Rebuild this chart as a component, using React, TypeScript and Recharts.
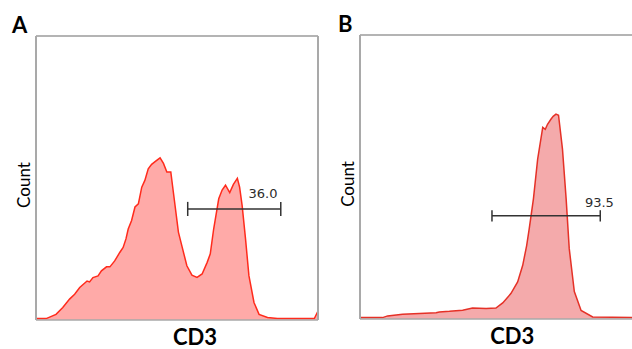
import React from 'react';
import { AreaChart, Area, XAxis, YAxis, ReferenceLine, ReferenceDot } from 'recharts';

// Panel A: CD3 channel (0-1000) vs count (% of frame height)
const cd3A = [0, 36, 71, 95, 119, 137, 155, 181, 190, 202, 220, 232, 250, 262, 279, 297, 309, 319, 327, 339, 351, 363, 375, 386, 398, 410, 428, 440, 452, 464, 478, 487, 505, 517, 535, 553, 571, 589, 607, 618, 630, 648, 660, 672, 687, 700, 714, 722, 731, 743, 755, 773, 791, 821, 856, 987, 1000];
const countA = [0, 0, 1.5, 3.9, 6.9, 8.6, 11.0, 13.3, 13.0, 14.5, 15.1, 16.9, 18.3, 18.3, 20.4, 23.4, 25.2, 28.2, 31.7, 34.7, 39.5, 40.6, 46.5, 48.9, 53.0, 54.6, 56.0, 56.9, 54.9, 51.9, 51.9, 44.8, 30.6, 25.8, 18.7, 15.4, 14.6, 15.8, 19.9, 22.9, 31.7, 42.4, 45.5, 47.2, 44.6, 47.5, 49.6, 46.5, 40.0, 28.2, 15.2, 5.7, 1.5, 0.4, 0, 0, 2.7];

// Panel B
const cd3B = [0, 80, 98, 151, 270, 281, 317, 364, 399, 447, 482, 506, 535, 559, 577, 591, 600, 615, 630, 648, 657, 665, 677, 685, 695, 704, 718, 731, 742, 760, 784, 825, 1000];
const countB = [0, 0, 0.6, 1.2, 1.7, 2.0, 2.2, 2.6, 3.4, 3.2, 3.4, 5.2, 8.5, 12.6, 18.5, 25.5, 31.4, 42.0, 56.1, 67.3, 66.6, 68.4, 70.2, 71.2, 72.0, 71.6, 59.6, 42.0, 24.4, 9.2, 2.5, 0.2, 0];

// gates: [from, to, level, tick half height], label [x, y, text]
const gateA = [538, 868, 38.8, 2.5];
const gateLabelA = [805, 44.4, '36.0'];
const gateB = [468, 852, 36.0, 2.0];
const gateLabelB = [849, 40.6, '93.5'];

const FRAME = '#a9a9a9';
const Y_MIN = -0.5;

const toRows = (xs: number[], ys: number[]) => xs.map((x, i) => ({ cd3: x, count: ys[i] }));

const countLabel = (dx: number) => (props: any) => {
  const vb = props.viewBox;
  const cx = vb.x + dx;
  const cy = vb.y + vb.height / 2 + 7;
  return (
    <text
      x={cx}
      y={cy}
      transform={`rotate(-90 ${cx} ${cy})`}
      textAnchor="middle"
      dominantBaseline="central"
      fontFamily="Lato"
      fontSize={17}
      fill="#000"
    >
      Count
    </text>
  );
};

const cd3Label = (frac: number) => (props: any) => {
  const vb = props.viewBox;
  return (
    <text
      x={vb.x + vb.width * frac}
      y={vb.y + 25}
      textAnchor="middle"
      fontFamily="Lato"
      fontWeight={700}
      fontSize={22}
      fill="#000"
    >
      CD3
    </text>
  );
};

interface PanelProps {
  cd3: number[];
  counts: number[];
  gate: number[];
  gateLabel: (number | string)[];
  stroke: string;
  fill: string;
  width: number;
  top: number;
  right: number;
  yWidth: number;
  xHeight: number;
  countDx: number;
  cd3Frac: number;
}

function Histogram(p: PanelProps) {
  const rows = toRows(p.cd3, p.counts);
  const [g1, g2, gy, gt] = p.gate;
  return (
    <AreaChart
      width={p.width}
      height={349}
      data={rows}
      margin={{ top: p.top, right: p.right, bottom: 0, left: 0 }}
    >
      <XAxis
        dataKey="cd3"
        type="number"
        domain={[0, 1000]}
        tick={false}
        tickLine={false}
        height={p.xHeight}
        axisLine={{ stroke: FRAME, strokeWidth: 1.5 }}
        label={{ content: cd3Label(p.cd3Frac) }}
      />
      <YAxis
        type="number"
        domain={[Y_MIN, 100]}
        tick={false}
        tickLine={false}
        width={p.yWidth}
        axisLine={{ stroke: FRAME, strokeWidth: 2 }}
        label={{ content: countLabel(p.countDx) }}
      />
      {/* top and right edges of the frame */}
      <ReferenceLine y={100} stroke="#b4b4b4" strokeWidth={2} />
      <ReferenceLine x={1000} stroke={FRAME} strokeWidth={2} />
      <Area
        type="linear"
        dataKey="count"
        baseValue={Y_MIN}
        stroke={p.stroke}
        strokeWidth={1.5}
        fill={p.fill}
        fillOpacity={1}
        isAnimationActive={false}
        dot={false}
        activeDot={false}
      />
      <ReferenceLine segment={[{ x: g1, y: gy }, { x: g2, y: gy }]} stroke="#333" strokeWidth={1.5} />
      <ReferenceLine segment={[{ x: g1, y: gy - gt }, { x: g1, y: gy + gt }]} stroke="#333" strokeWidth={1.5} />
      <ReferenceLine segment={[{ x: g2, y: gy - gt }, { x: g2, y: gy + gt }]} stroke="#333" strokeWidth={1.5} />
      <ReferenceDot
        x={p.gateLabel[0] as number}
        y={p.gateLabel[1] as number}
        r={1}
        fill="none"
        stroke="none"
        label={{
          value: p.gateLabel[2],
          position: 'center',
          fill: '#2b2b2b',
          fontSize: 13,
          fontFamily: 'DejaVu Sans',
        }}
      />
    </AreaChart>
  );
}

const panelTitle: React.CSSProperties = {
  position: 'absolute',
  fontFamily: 'Lato',
  fontWeight: 700,
  fontSize: 22,
  lineHeight: '22px',
  color: '#000',
};

export default function App() {
  return (
    <div
      style={{
        position: 'fixed',
        left: 0,
        top: 0,
        width: 632,
        height: 349,
        overflow: 'hidden',
        background: '#fff',
      }}
    >
      <div style={{ position: 'absolute', left: 0, top: 0 }}>
        <Histogram
          cd3={cd3A}
          counts={countA}
          gate={gateA}
          gateLabel={gateLabelA}
          stroke="#ff2b1c"
          fill="#ffaaa8"
          width={330}
          top={36}
          right={12}
          yWidth={36}
          xHeight={29}
          countDx={23}
          cd3Frac={0.564}
        />
      </div>
      <div style={{ position: 'absolute', left: 330, top: 0 }}>
        <Histogram
          cd3={cd3B}
          counts={countB}
          gate={gateB}
          gateLabel={gateLabelB}
          stroke="#e53127"
          fill="#f4aaab"
          width={312}
          top={35}
          right={0}
          yWidth={30}
          xHeight={30}
          countDx={17.7}
          cd3Frac={0.54}
        />
      </div>
      <div style={{ ...panelTitle, left: 12, top: 14 }}>A</div>
      <div style={{ ...panelTitle, left: 338, top: 13 }}>B</div>
    </div>
  );
}
